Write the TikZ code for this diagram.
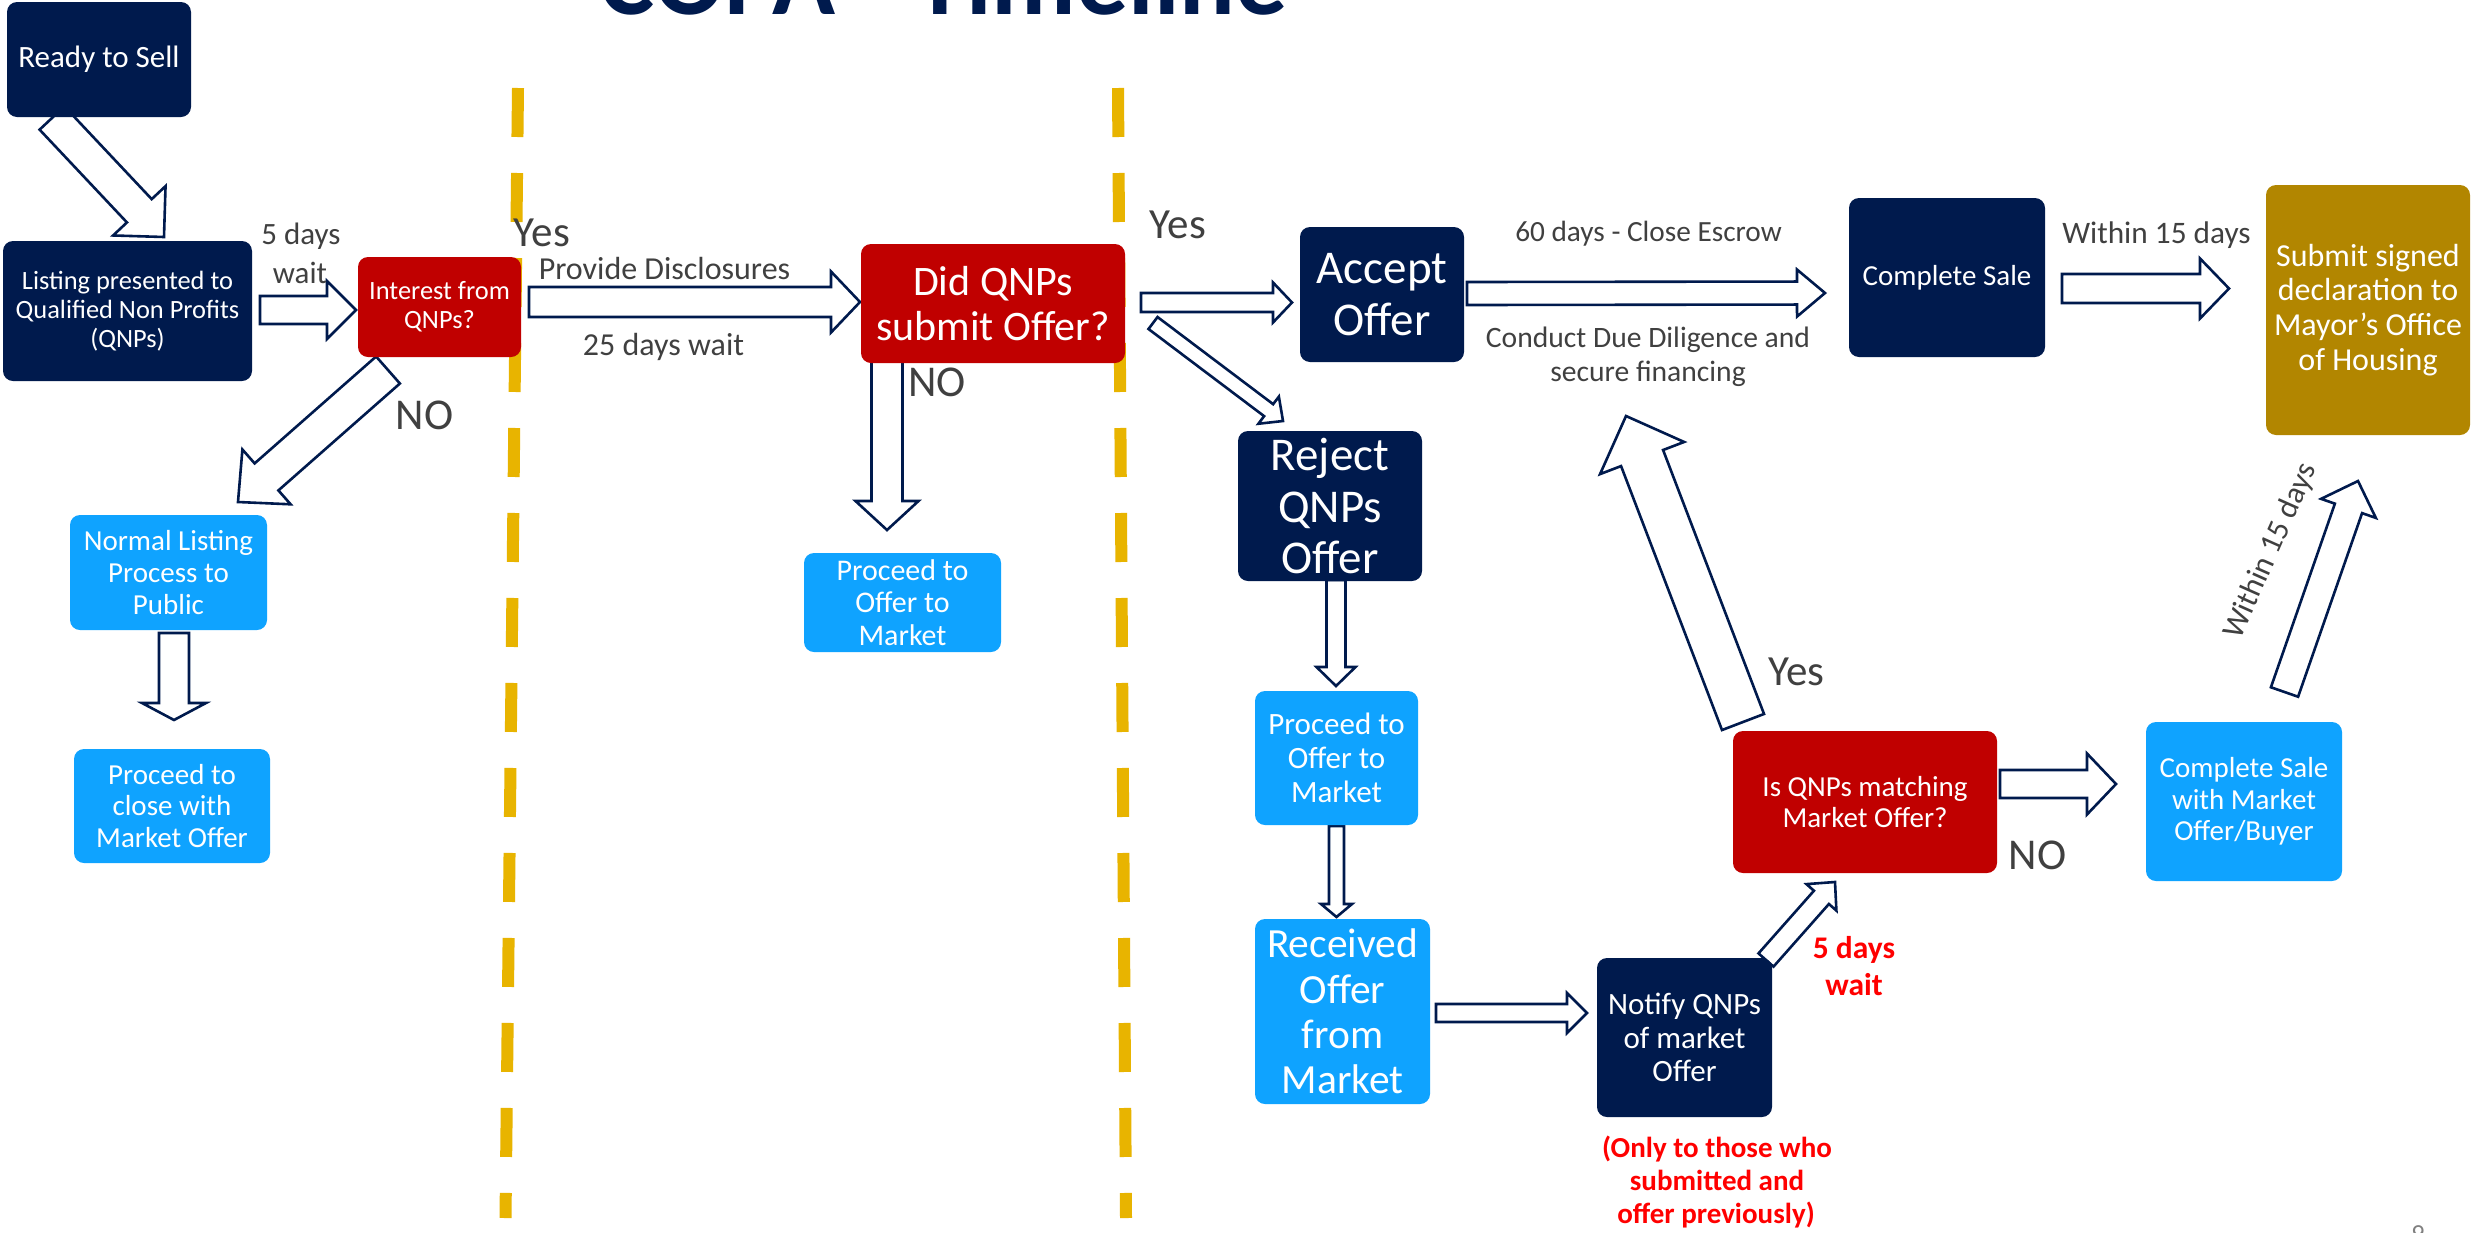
\documentclass[tikz,border=0pt]{standalone}
\usepackage{fontspec}
\setmainfont{Carlito}
\usetikzlibrary{calc}
\definecolor{navy}{RGB}{0,26,77}
\definecolor{qred}{RGB}{192,0,0}
\definecolor{lblue}{RGB}{15,163,255}
\definecolor{gold}{RGB}{178,134,0}
\definecolor{dashy}{RGB}{232,180,0}
\definecolor{lbl}{RGB}{64,64,64}
\definecolor{alert}{RGB}{255,0,0}
\newcommand\fsz[1]{\edef\tmpls{\fpeval{#1*1.09}}\fontsize{#1}{\tmpls}\selectfont}
% box: name x1 y1 x2 y2 colour size text
\newcommand\bx[8]{\node[boxst, fill=#6, minimum width={(#4)-(#2)}, minimum height={(#5)-(#3)}, font=\fsz{#7}] (#1) at ({(#2+#4)/2},{(#3+#5)/2}) {#8};}
% block arrow: tail tip halfshaft halfhead headlength
\newcommand\barrow[5]{%
  \coordinate (bhb) at ($(#2)!#5pt!(#1)$);
  \draw[barst] ($(#1)!#3pt!90:(#2)$) -- ($(bhb)!#3pt!90:(#2)$) -- ($(bhb)!#4pt!90:(#2)$) -- (#2) -- ($(bhb)!#4pt!-90:(#2)$) -- ($(bhb)!#3pt!-90:(#2)$) -- ($(#1)!#3pt!-90:(#2)$) -- cycle;}
\begin{document}
\begin{tikzpicture}[x=1pt,y=-1pt,
  boxst/.style={rounded corners=10pt, inner sep=0pt, text=white, align=center, draw=none},
  barst/.style={draw=navy, fill=white, line width=2.6pt, line join=miter},
  lab/.style={text=lbl, anchor=base, inner sep=0pt},
  redlab/.style={text=alert, anchor=base, inner sep=0pt},
  divider/.style={draw=dashy, line width=12pt, dash pattern=on 49pt off 36pt}]
\useasboundingbox (0,0) rectangle (2471,1232);
\fill[white] (0,0) rectangle (2471,1232);

% title (cut by the top edge)
\node[anchor=base, text=navy, font=\fsz{104}\bfseries, inner sep=0pt] (title) at (944,14) {COPA - Timeline};

% yellow dashed dividers
\draw[divider] (518,88) -- (505.5,1218);
\draw[divider] (1118,88) -- (1126,1218);

% arrow end points
\coordinate (a1t) at (52,118);     \coordinate (a1h) at (164,237);
\coordinate (a2t) at (260,310);    \coordinate (a2h) at (356,310);
\coordinate (a3t) at (388,370);    \coordinate (a3h) at (238,502);
\coordinate (a4t) at (174,633);    \coordinate (a4h) at (174,720);
\coordinate (a5t) at (529,302);    \coordinate (a5h) at (860,302);
\coordinate (a6t) at (887,360);    \coordinate (a6h) at (887,530);
\coordinate (a7t) at (1141,302.5); \coordinate (a7h) at (1292,302.5);
\coordinate (a8t) at (1153,323);   \coordinate (a8h) at (1283,421);
\coordinate (a9t) at (1467,293.5); \coordinate (a9h) at (1825,293);
\coordinate (a10t) at (2062,288.5);\coordinate (a10h) at (2229,288.5);
\coordinate (a11t) at (1336,580);  \coordinate (a11h) at (1336,686);
\coordinate (a12t) at (1336.5,826);\coordinate (a12h) at (1336.5,917);
\coordinate (a13t) at (1436,1013); \coordinate (a13h) at (1587,1013);
\coordinate (a14t) at (1766,960);  \coordinate (a14h) at (1835,882);
\coordinate (a15t) at (1743,722);  \coordinate (a15h) at (1626,416);
\coordinate (a16t) at (2000,784);  \coordinate (a16h) at (2116,784);
\coordinate (a17t) at (2284.5,692);\coordinate (a17h) at (2358,481);

\barrow{a1t}{a1h}{17}{36}{36}
\barrow{a2t}{a2h}{14}{29}{29}
\barrow{a3t}{a3h}{18}{36.5}{38}
\barrow{a4t}{a4h}{15}{32}{17}
\barrow{a5t}{a5h}{15}{30.5}{29}
\barrow{a6t}{a6h}{15.5}{31.5}{29}
\barrow{a7t}{a7h}{9.5}{20}{19}
\barrow{a8t}{a8h}{7.5}{17}{18}
\barrow{a9t}{a9h}{11.5}{23.5}{28}
\barrow{a10t}{a10h}{14.5}{30}{29}
\barrow{a11t}{a11h}{9.5}{19.5}{19}
\barrow{a12t}{a12h}{7.5}{15.5}{13}
\barrow{a13t}{a13h}{9}{20}{20}
\barrow{a14t}{a14h}{10}{20}{20.5}
\barrow{a15t}{a15h}{22.5}{45}{45}
\barrow{a16t}{a16h}{14}{30.5}{29}
\barrow{a17t}{a17h}{14.4}{29}{29}

% boxes
\bx{ready}{7}{2}{191}{117}{navy}{31}{Ready to Sell}
\bx{listing}{3}{241}{252}{381}{navy}{26.4}{Listing presented to\\Qualified Non Profits\\(QNPs)}
\bx{interest}{358}{257}{521}{357}{qred}{26.4}{Interest from\\QNPs?}
\bx{did}{861}{244}{1125}{363}{qred}{42}{Did QNPs\\submit Offer?}
\bx{accept}{1300}{227}{1464}{362}{navy}{47}{Accept\\Offer}
\bx{reject}{1238}{431}{1422}{581}{navy}{47}{Reject\\QNPs\\Offer}
\bx{csale}{1849}{198}{2045}{357}{navy}{29}{Complete Sale}
\bx{submit}{2266}{185}{2470}{435}{gold}{32}{Submit signed\\declaration to\\Mayor’s Office\\of Housing}
\bx{normal}{70}{515}{267}{630}{lblue}{29}{Normal Listing\\Process to\\Public}
\bx{pclose}{74}{749}{270}{863}{lblue}{29}{Proceed to\\close with\\Market Offer}
\bx{poffera}{804}{553}{1001}{652}{lblue}{30}{Proceed to\\Offer to\\Market}
\bx{pofferb}{1255}{691}{1418}{825}{lblue}{31}{Proceed to\\Offer to\\Market}
\bx{received}{1255}{919}{1430}{1104}{lblue}{41.5}{Received\\Offer\\from\\Market}
\bx{notify}{1597}{958}{1772}{1117}{navy}{31}{Notify QNPs\\of market\\Offer}
\bx{isqnp}{1733}{731}{1997}{873}{qred}{29}{Is QNPs matching\\Market Offer?}
\bx{csalem}{2146}{722}{2342}{881}{lblue}{29}{Complete Sale\\with Market\\Offer/Buyer}

% labels
\node[lab, font=\fsz{31}] (l5d) at (301,244) {5 days};
\node[lab, font=\fsz{31}] (l5w) at (300,283) {wait};
\node[lab, font=\fsz{43}] (lyes1) at (542,246) {Yes};
\node[lab, font=\fsz{32}] (lprov) at (664.5,279) {Provide Disclosures};
\node[lab, font=\fsz{32}] (l25) at (663.5,355) {25 days wait};
\node[lab, font=\fsz{44}] (lno1) at (424.5,429) {NO};
\node[lab, font=\fsz{44}] (lno2) at (937,396) {NO};
\node[lab, font=\fsz{43}] (lyes2) at (1178,238) {Yes};
\node[lab, font=\fsz{29.3}] (l60) at (1648.5,241) {60 days - Close Escrow};
\node[lab, font=\fsz{29.6}] (lcdd) at (1648,347) {Conduct Due Diligence and};
\node[lab, font=\fsz{29.6}] (lsf) at (1648,381) {secure financing};
\node[lab, font=\fsz{31.3}] (lw15) at (2156.5,243) {Within 15 days};
\node[lab, font=\fsz{43}] (lyes3) at (1796.5,685) {Yes};
\node[lab, font=\fsz{44}] (lno3) at (2037.5,869) {NO};
\node[text=lbl, inner sep=0pt, rotate=66, font=\fsz{31.3}] (lw15r) at (2271,551) {Within 15 days};
\node[redlab, font=\fsz{31.5}\bfseries] (r5d) at (1854,958) {5 days};
\node[redlab, font=\fsz{31.5}\bfseries] (r5w) at (1854,995) {wait};
\node[redlab, font=\fsz{29}\bfseries] (ro1) at (1717,1157) {(Only to those who};
\node[redlab, font=\fsz{29}\bfseries] (ro2) at (1717,1190) {submitted and};
\node[redlab, font=\fsz{29}\bfseries] (ro3) at (1716,1223) {offer previously)};
\node[anchor=north, inner sep=0pt, text=gray, font=\fsz{26}] (pgno) at (2418,1225) {9};
\end{tikzpicture}
\end{document}
